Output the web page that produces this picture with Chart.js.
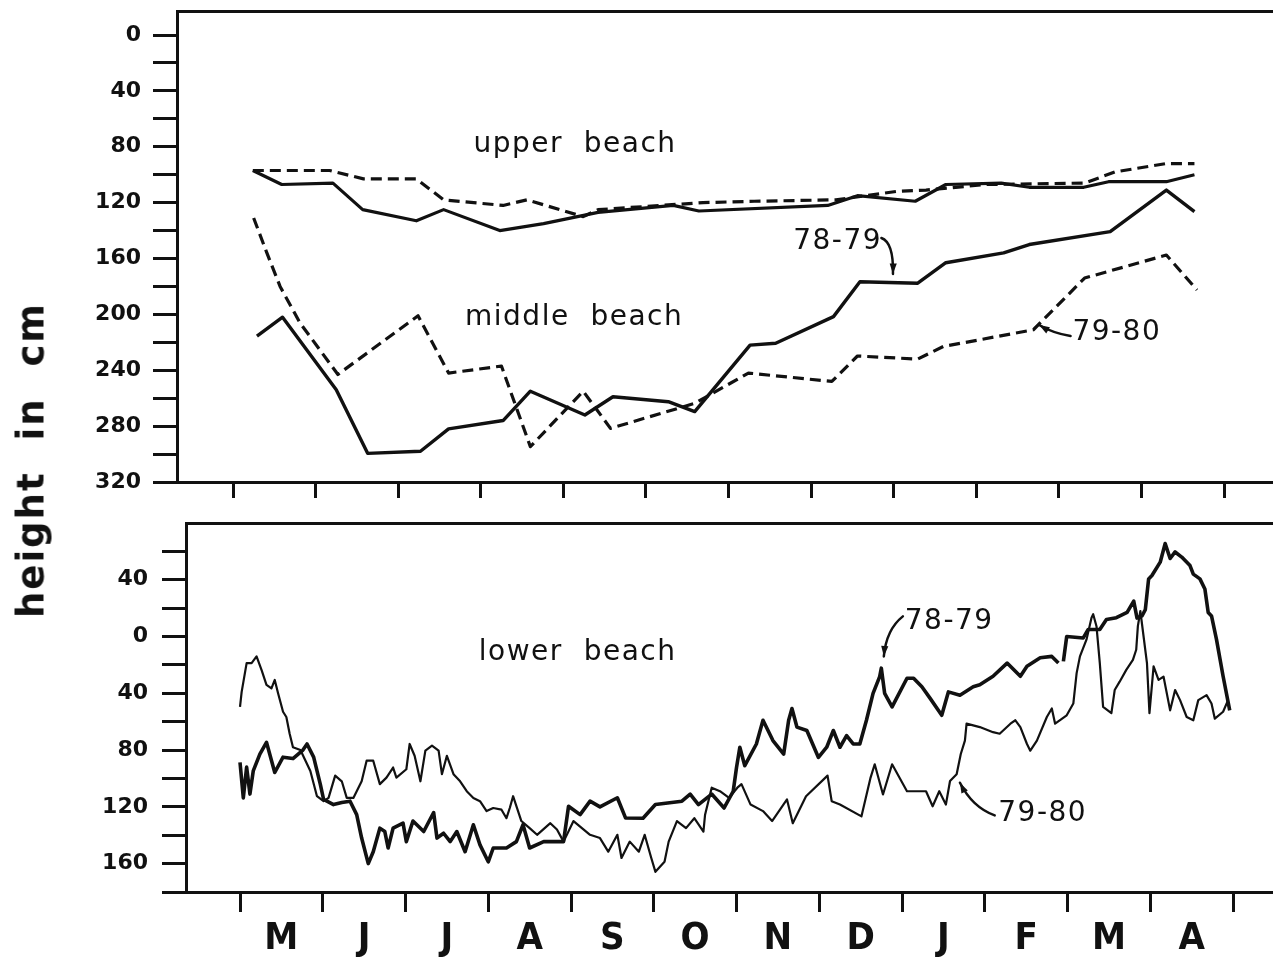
<!DOCTYPE html>
<html>
<head>
<meta charset="utf-8">
<script src="https://cdn.jsdelivr.net/npm/chart.js@4"></script>
<style>
  html, body { margin: 0; padding: 0; background: #fff; }
  body { width: 1273px; height: 962px; position: relative; overflow: hidden; }
  #upper { position: absolute; left: 0; top: 0; }
  #lower { position: absolute; left: 0; top: 500px; }
  #ytitle {
    position: absolute; left: 31px; top: 460px;
    transform: translate(-50%, -50%) rotate(-90deg);
    font: bold 37px "DejaVu Sans", sans-serif; color: #111;
    white-space: pre; word-spacing: 16px; letter-spacing: 2px;
  }
</style>
</head>
<body>
<canvas id="upper" width="1273" height="515"></canvas>
<canvas id="lower" width="1273" height="462"></canvas>
<div id="ytitle">height in cm</div>
<script>
// months counted from 1 May (0) to 30 April (12)
const monthLabels = ['M', 'J', 'J', 'A', 'S', 'O', 'N', 'D', 'J', 'F', 'M', 'A'];
const monthTicks = [0, 1, 2, 3, 4, 5, 6, 7, 8, 9, 10, 11, 12];

// height axes (cm, measured downward)
const upperTickValues = [0, 20, 40, 60, 80, 100, 120, 140, 160, 180, 200, 220, 240, 260, 280, 300, 320];
const upperLabelValues = [0, 40, 80, 120, 160, 200, 240, 280, 320];
const lowerTickValues = [-60, -40, -20, 0, 20, 40, 60, 80, 100, 120, 140, 160, 180];
const lowerLabelValues = [-40, 0, 40, 80, 120, 160];

// upper beach
const upper7879Months = [0.24, 0.59, 1.21, 1.57, 2.22, 2.55, 3.23, 3.76, 4.42, 5.33, 5.64, 7.20, 7.56, 8.26, 8.63, 9.30, 9.64, 10.30, 10.60, 11.30, 11.64];
const upper7879Heights = [97, 107, 106, 125, 133, 125, 140, 135, 127, 122, 126, 122, 115, 119, 107, 106, 109, 109, 105, 105, 100];
const upper7980Months = [0.24, 1.17, 1.58, 2.22, 2.55, 3.27, 3.56, 4.24, 4.42, 5.69, 6.31, 7.30, 8.03, 8.39, 9.12, 10.31, 10.68, 11.30, 11.64];
const upper7980Heights = [97, 97, 103, 103, 118, 122, 118, 130, 125, 120, 119, 118, 112, 111, 107, 106, 98, 92, 92];

// middle beach
const middle7879Months = [0.29, 0.60, 1.25, 1.63, 2.27, 2.61, 3.27, 3.60, 4.26, 4.60, 5.27, 5.59, 6.26, 6.57, 7.27, 7.59, 8.29, 8.63, 9.33, 9.64, 10.62, 11.30, 11.64];
const middle7879Heights = [215.5, 202, 254, 299.5, 298, 282, 276, 255, 272, 259, 262.5, 269.6, 222, 220.7, 201.6, 176.6, 177.7, 163, 156, 150, 140.8, 111, 126.5];
const middle7980Months = [0.25, 0.41, 0.57, 0.81, 1.27, 2.24, 2.61, 3.25, 3.60, 4.24, 4.57, 5.59, 6.24, 7.25, 7.56, 8.29, 8.60, 9.69, 10.31, 11.30, 11.67];
const middle7980Heights = [131, 156, 180, 206, 243, 201, 242, 237, 294.7, 255, 281.6, 263.7, 242, 248, 229.8, 232, 223, 211, 174, 157.5, 182.5];

// lower beach (negative = above the zero level)
const lower7879Months = [
  0.00, 0.04, 0.08, 0.12, 0.16, 0.24, 0.32, 0.42, 0.52, 0.64,
  0.76, 0.81, 0.89, 0.97, 1.01, 1.13, 1.23, 1.33, 1.41, 1.47,
  1.55, 1.61, 1.69, 1.75, 1.79, 1.85, 1.97, 2.01, 2.09, 2.22,
  2.34, 2.38, 2.46, 2.54, 2.62, 2.72, 2.82, 2.90, 3.00, 3.06,
  3.22, 3.34, 3.42, 3.50, 3.67, 3.75, 3.91, 3.97, 4.11, 4.23,
  4.35, 4.56, 4.66, 4.87, 5.02, 5.34, 5.44, 5.54, 5.70, 5.85,
  5.96, 6.00, 6.04, 6.10, 6.24, 6.32, 6.44, 6.57, 6.63, 6.67,
  6.73, 6.85, 6.99, 7.09, 7.17, 7.25, 7.33, 7.41, 7.49, 7.57,
  7.65, 7.73, 7.75, 7.79, 7.88, 8.06, 8.14, 8.24, 8.34, 8.48,
  8.56, 8.70, 8.86, 8.94, 9.10, 9.27, 9.43, 9.51, 9.67, 9.81,
  9.89, 9.92, 9.95, 9.99, 10.19, 10.25, 10.39, 10.47, 10.59, 10.72,
  10.80, 10.84, 10.90, 10.94, 10.98, 11.02, 11.12, 11.18, 11.24, 11.30,
  11.38, 11.48, 11.52, 11.60, 11.66, 11.70, 11.74, 11.80, 11.88, 11.96
];
const lower7879Heights = [
  88.7, 113.7, 92, 111, 94.7, 82.8, 74.5, 95.8, 85, 86,
  80, 75.7, 85, 104, 114.8, 118.4, 117, 116, 125.5, 142,
  160, 151.6, 135, 137.4, 149, 135, 131.5, 144.5, 130, 137.4,
  124, 142, 138.6, 144.5, 137.4, 151.6, 132.6, 146.8, 158.7, 149,
  149, 144.5, 132.6, 149, 144.5, 144.5, 144.5, 119.6, 125.5, 116,
  120, 113.6, 127.9, 128, 118.4, 116, 111, 118.4, 111, 120.8,
  109, 92.3, 78, 91, 75.7, 59, 73.3, 82.8, 59, 50.7,
  63.8, 66.2, 85.2, 78, 66.2, 78, 69.8, 75.7, 75.7, 59,
  40, 28.2, 22.3, 40, 49.6, 29.4, 29.4, 35.4, 43.6, 55.5,
  39, 41.3, 35.4, 34, 28, 18.7, 28, 21, 15, 14,
  18.7, null, 17.5, 0, 1, -5, -5, -12, -13.3, -17,
  -25, -13, -14.5, -19, -40.6, -43, -52.4, -65.5, -55, -59.6,
  -56, -50, -44, -40.6, -33.5, -17, -14.5, 2, 28, 52
];
const lower7980Months = [
  0.00, 0.02, 0.08, 0.14, 0.20, 0.26, 0.32, 0.38, 0.42, 0.46,
  0.52, 0.56, 0.60, 0.64, 0.73, 0.85, 0.93, 1.01, 1.07, 1.15,
  1.23, 1.29, 1.37, 1.47, 1.53, 1.61, 1.69, 1.77, 1.85, 1.89,
  2.01, 2.05, 2.11, 2.18, 2.24, 2.32, 2.40, 2.44, 2.50, 2.58,
  2.66, 2.74, 2.82, 2.90, 2.98, 3.06, 3.16, 3.22, 3.26, 3.30,
  3.40, 3.50, 3.59, 3.75, 3.83, 3.91, 4.03, 4.23, 4.35, 4.45,
  4.56, 4.61, 4.71, 4.82, 4.89, 4.97, 5.02, 5.13, 5.18, 5.28,
  5.39, 5.49, 5.60, 5.62, 5.70, 5.80, 5.91, 6.01, 6.06, 6.17,
  6.32, 6.43, 6.61, 6.68, 6.84, 7.10, 7.15, 7.25, 7.51, 7.62,
  7.67, 7.77, 7.88, 8.06, 8.29, 8.37, 8.45, 8.53, 8.58, 8.66,
  8.71, 8.76, 8.78, 8.94, 9.10, 9.18, 9.31, 9.37, 9.43, 9.51,
  9.55, 9.63, 9.75, 9.81, 9.85, 9.99, 10.07, 10.11, 10.15, 10.23,
  10.29, 10.31, 10.35, 10.39, 10.43, 10.53, 10.57, 10.63, 10.71, 10.79,
  10.83, 10.85, 10.88, 10.96, 10.99, 11.04, 11.10, 11.16, 11.24, 11.30,
  11.36, 11.44, 11.52, 11.58, 11.68, 11.74, 11.78, 11.88, 11.94
];
const lower7980Heights = [
  49.6, 39, 18.7, 18.7, 14, 23.5, 34, 36.5, 30.6, 40,
  53, 56.7, 68.5, 78, 80, 94.7, 112.5, 116, 113.7, 98,
  102, 113.7, 113.7, 102, 87.5, 87.5, 104, 99.4, 92.3, 99.4,
  93.5, 75.7, 84, 102, 80.4, 76.9, 80.4, 97, 84, 97,
  102, 109, 113.7, 116, 123, 120.8, 122, 128, 120.8, 112.5,
  130, 135, 139.7, 131.5, 136, 144.5, 130, 139.7, 142, 151.6,
  139.7, 156, 144.5, 151.6, 139.7, 156, 165.8, 158.7, 144.5, 130,
  135, 128, 137.4, 125.5, 106.5, 109, 113.7, 106.5, 104, 118.4,
  123, 130, 114.8, 131.5, 112.5, 98, 116, 118.4, 126.7, 99.4,
  90, 111.3, 90, 109, 109, 119.6, 109, 118.4, 101.8, 97,
  82.8, 73.3, 61.4, 63.8, 67.4, 68.5, 61.4, 59, 63.8, 75.7,
  80.4, 73.3, 56.7, 50.7, 61.4, 55.5, 47.2, 25.8, 14, 2,
  -13.3, -15.7, -7.3, 18.7, 49.6, 54, 37.7, 31.8, 23.5, 16.4,
  9.3, -7.3, -18, 18.7, 54, 21, 30.6, 28.2, 52, 37.7,
  44.8, 56.7, 59, 44.8, 41.3, 47.2, 57.9, 53, 44.8
];

const INK = '#111';
const tickFont = { family: '"DejaVu Sans", sans-serif', size: 22, weight: 'bold' };

function series(months, heights, width, dash) {
  return {
    data: months.map((m, i) => ({ x: m, y: heights[i] })),
    borderColor: INK,
    borderWidth: width,
    borderDash: dash || [],
    borderJoinStyle: 'round',
    pointRadius: 0,
    tension: 0,
    spanGaps: false,
    fill: false
  };
}

// text labels and arrows drawn in data coordinates
const notesPlugin = {
  id: 'notes',
  afterDatasetsDraw(chart, args, opts) {
    const { ctx } = chart;
    const x = chart.scales.x, y = chart.scales.y;
    ctx.save();
    ctx.fillStyle = INK;
    ctx.strokeStyle = INK;
    ctx.font = '28px "DejaVu Sans", sans-serif';
    ctx.letterSpacing = '1.5px';
    ctx.textAlign = 'center';
    ctx.textBaseline = 'middle';
    (opts.texts || []).forEach(t => {
      ctx.fillText(t.text, x.getPixelForValue(t.month), y.getPixelForValue(t.height));
    });
    ctx.lineWidth = 2.5;
    ctx.lineCap = 'round';
    (opts.arrows || []).forEach(a => {
      const p = a.map(([m, h]) => [x.getPixelForValue(m), y.getPixelForValue(h)]);
      ctx.beginPath();
      ctx.moveTo(p[0][0], p[0][1]);
      ctx.quadraticCurveTo(p[1][0], p[1][1], p[2][0], p[2][1]);
      ctx.stroke();
      const ang = Math.atan2(p[2][1] - p[1][1], p[2][0] - p[1][0]);
      ctx.beginPath();
      ctx.moveTo(p[2][0], p[2][1]);
      ctx.lineTo(p[2][0] - 11 * Math.cos(ang - 0.33), p[2][1] - 11 * Math.sin(ang - 0.33));
      ctx.lineTo(p[2][0] - 11 * Math.cos(ang + 0.33), p[2][1] - 11 * Math.sin(ang + 0.33));
      ctx.closePath();
      ctx.fill();
    });
    ctx.restore();
  }
};

function frameAxis(min, max) {
  // top edge of the box
  return {
    type: 'linear', position: 'top', min, max,
    ticks: { display: false },
    grid: { display: false },
    border: { display: true, width: 3, color: INK },
    afterFit: s => { s.height = 0; s.paddingLeft = 0; s.paddingRight = 0; }
  };
}

function heightAxis(min, max, tickValues, labelValues, width, pad) {
  return {
    type: 'linear', reverse: true, min, max,
    afterBuildTicks: s => { s.ticks = tickValues.map(v => ({ value: v })); },
    ticks: {
      autoSkip: false, padding: pad, color: INK, font: tickFont,
      callback: v => labelValues.includes(v) ? String(Math.abs(v)) : ''
    },
    grid: { drawOnChartArea: false, tickLength: 24, tickWidth: 3, tickColor: INK },
    border: { display: true, width: 3, color: INK },
    afterFit: s => { s.width = width; s.paddingTop = 0; s.paddingBottom = 0; }
  };
}

const baseOptions = {
  responsive: false,
  animation: false,
  devicePixelRatio: 1,
  events: [],
  plugins: { legend: { display: false }, tooltip: { enabled: false } }
};

// ---------- upper and middle beach ----------
const upperMin = -0.678, upperMax = 12.591;
new Chart(document.getElementById('upper'), {
  type: 'line',
  data: {
    datasets: [
      series(upper7879Months, upper7879Heights, 3.2),
      series(upper7980Months, upper7980Heights, 3.2, [11, 6]),
      series(middle7879Months, middle7879Heights, 3.4),
      series(middle7980Months, middle7980Heights, 3.2, [11, 6])
    ]
  },
  options: {
    ...baseOptions,
    layout: { padding: { top: 11, left: 0, right: 0, bottom: 0 } },
    scales: {
      x: {
        type: 'linear', position: 'bottom', min: upperMin, max: upperMax,
        afterBuildTicks: s => { s.ticks = monthTicks.map(v => ({ value: v })); },
        ticks: { display: false },
        grid: { drawOnChartArea: false, tickLength: 16, tickWidth: 3, tickColor: INK },
        border: { display: true, width: 3, color: INK },
        afterFit: s => { s.height = 33; s.paddingLeft = 0; s.paddingRight = 0; }
      },
      xTop: frameAxis(upperMin, upperMax),
      y: heightAxis(-17.2, 320, upperTickValues, upperLabelValues, 177, 12)
    },
    plugins: {
      ...baseOptions.plugins,
      notes: {
        texts: [
          { text: 'upper  beach', month: 4.14, height: 78.7 },
          { text: 'middle  beach', month: 4.13, height: 202.6 },
          { text: '78-79', month: 7.32, height: 148 },
          { text: '79-80', month: 10.7, height: 213.3 }
        ],
        arrows: [
          [[7.85, 145.3], [8.0, 148.5], [7.99, 171]],
          [[10.14, 215.5], [9.92, 213.3], [9.76, 207.6]]
        ]
      }
    }
  },
  plugins: [notesPlugin]
});

// ---------- lower beach ----------
const lowerMin = -0.6526, lowerMax = 12.483;
new Chart(document.getElementById('lower'), {
  type: 'line',
  data: {
    datasets: [
      series(lower7879Months, lower7879Heights, 3.6),
      series(lower7980Months, lower7980Heights, 2.2)
    ]
  },
  options: {
    ...baseOptions,
    layout: { padding: { top: 23, left: 0, right: 0, bottom: 0 } },
    scales: {
      x: {
        type: 'linear', position: 'bottom', min: lowerMin, max: lowerMax,
        afterBuildTicks: s => {
          const centres = monthLabels.map((_, i) => i + 0.5);
          s.ticks = monthTicks.concat(centres).sort((a, b) => a - b).map(v => ({ value: v }));
        },
        ticks: {
          autoSkip: false, maxRotation: 0, padding: 4, color: INK,
          font: { family: '"Liberation Sans Narrow", "DejaVu Sans Condensed", "DejaVu Sans", sans-serif', size: 38, weight: 'bold' },
          callback: v => Number.isInteger(v) ? '' : monthLabels[Math.floor(v)]
        },
        grid: {
          drawOnChartArea: false, tickLength: 20, tickWidth: 3,
          tickColor: c => (c.tick && Number.isInteger(c.tick.value)) ? INK : 'rgba(0,0,0,0)'
        },
        border: { display: true, width: 3, color: INK },
        afterFit: s => { s.height = 70; s.paddingLeft = 0; s.paddingRight = 0; }
      },
      xTop: frameAxis(lowerMin, lowerMax),
      y: heightAxis(-80, 180, lowerTickValues, lowerLabelValues, 186, 14)
    },
    plugins: {
      ...baseOptions.plugins,
      notes: {
        texts: [
          { text: 'lower  beach', month: 4.08, height: 11.4 },
          { text: '78-79', month: 8.57, height: -10.7 },
          { text: '79-80', month: 9.70, height: 124.6 }
        ],
        arrows: [
          [[8.01, -14.2], [7.81, -5], [7.78, 14]],
          [[9.12, 126], [8.85, 120.3], [8.70, 103]]
        ]
      }
    }
  },
  plugins: [notesPlugin]
});
</script>
</body>
</html>
